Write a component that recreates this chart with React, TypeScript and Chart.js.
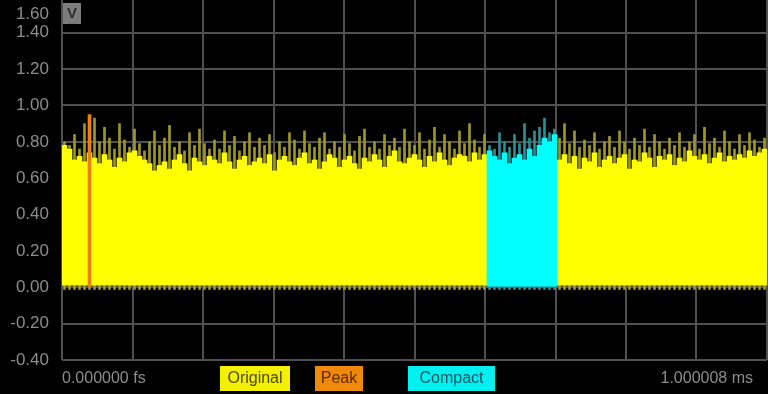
import React, { useEffect, useRef } from "react";
import { Chart, registerables } from "chart.js";

Chart.register(...registerables);

// Envelope body top (bright part) per column
const bodyTop: number[] = [
  0.78, 0.76, 0.70, 0.72, 0.69, 0.74, 0.71, 0.68, 0.73, 0.70,
  0.66, 0.71, 0.69, 0.74, 0.75, 0.72, 0.70, 0.68, 0.64, 0.67,
  0.69, 0.65, 0.70, 0.73, 0.68, 0.64, 0.71, 0.69, 0.67, 0.72,
  0.70, 0.68, 0.74, 0.69, 0.65, 0.70, 0.72, 0.67, 0.69, 0.71,
  0.68, 0.73, 0.64, 0.70, 0.72, 0.69, 0.67, 0.71, 0.74, 0.68,
  0.70, 0.65, 0.69, 0.73, 0.71, 0.66, 0.70, 0.72, 0.68, 0.65,
  0.71, 0.69, 0.73, 0.70, 0.66, 0.72, 0.75, 0.69, 0.68, 0.71,
  0.73, 0.70, 0.66, 0.72, 0.69, 0.74, 0.70, 0.67, 0.71, 0.73,
  0.72, 0.69, 0.74, 0.70, 0.73,
  0.75, 0.72, 0.70, 0.74, 0.68, 0.71, 0.73, 0.70, 0.76, 0.72, 0.78, 0.82, 0.80, 0.84,
  0.70, 0.73, 0.68, 0.72, 0.65, 0.71, 0.69, 0.74, 0.66, 0.70, 0.72,
  0.68, 0.71, 0.73, 0.65, 0.70, 0.69, 0.74, 0.71, 0.66, 0.72,
  0.70, 0.73, 0.67, 0.71, 0.69, 0.75, 0.72, 0.70, 0.73, 0.68,
  0.71, 0.74, 0.69, 0.72, 0.70, 0.73, 0.71, 0.75, 0.72, 0.74, 0.76,
];

// Spike peak per column
const spikePeak: number[] = [
  0.80, 0.78, 0.84, 0.76, 0.90, 0.79, 0.93, 0.80, 0.88, 0.82,
  0.76, 0.90, 0.81, 0.77, 0.87, 0.79, 0.75, 0.80, 0.86, 0.78,
  0.82, 0.89, 0.77, 0.80, 0.75, 0.85, 0.78, 0.87, 0.79, 0.76,
  0.81, 0.76, 0.86, 0.78, 0.83, 0.75, 0.80, 0.85, 0.77, 0.82,
  0.78, 0.84, 0.74, 0.80, 0.77, 0.85, 0.81, 0.76, 0.86, 0.79,
  0.77, 0.82, 0.85, 0.76, 0.80, 0.77, 0.84, 0.79, 0.75, 0.83,
  0.87, 0.77, 0.80, 0.76, 0.84, 0.78, 0.82, 0.77, 0.87, 0.80,
  0.78, 0.85, 0.76, 0.81, 0.88, 0.77, 0.84, 0.80, 0.76, 0.86,
  0.79, 0.90, 0.81, 0.77, 0.84,
  0.78, 0.76, 0.85, 0.80, 0.77, 0.84, 0.79, 0.90, 0.82, 0.86, 0.88, 0.93, 0.85, 0.87,
  0.82, 0.90, 0.79, 0.86, 0.77, 0.81, 0.78, 0.85, 0.76, 0.80, 0.83,
  0.77, 0.86, 0.80, 0.76, 0.82, 0.78, 0.87, 0.77, 0.84, 0.80,
  0.76, 0.82, 0.78, 0.85, 0.77, 0.80, 0.84, 0.76, 0.88, 0.79,
  0.82, 0.77, 0.86, 0.80, 0.76, 0.84, 0.78, 0.85, 0.81, 0.77, 0.82,
];

const compactStart = 85;
const compactEnd = 98;
const peakIndex = 5;
const peakValue = 0.95;

const topTickLabel = "1.60";
const gridDivisionCount = 10;
const xStartLabel = "0.000000 fs";
const xEndLabel = "1.000008 ms";
const legendItems = ["Original", "Peak", "Compact"];

const FONT = "'Liberation Sans', Arial, sans-serif";

const overlay = {
  id: "overlay",
  afterDraw(chart: any) {
    const ctx = chart.ctx;
    ctx.save();
    // V box
    ctx.fillStyle = "#7c7c7c";
    ctx.fillRect(63, 3, 18, 21);
    ctx.fillStyle = "#2e2e2e";
    ctx.font = "bold 15px " + FONT;
    ctx.textAlign = "center";
    ctx.textBaseline = "middle";
    ctx.fillText("V", 72, 14);
    // 1.60 label
    ctx.fillStyle = "#8c8c8c";
    ctx.font = "17px " + FONT;
    ctx.textAlign = "right";
    ctx.fillText(topTickLabel, 49, 14);
    // x labels
    ctx.font = "16px " + FONT;
    ctx.textAlign = "left";
    ctx.fillText(xStartLabel, 62, 379);
    ctx.textAlign = "right";
    ctx.fillText(xEndLabel, 753, 379);
    // legend boxes
    const boxes = [
      { x: 220, w: 70, bg: "#f5f000", fg: "#4e4a00" },
      { x: 315, w: 48, bg: "#f0880a", fg: "#5e2d00" },
      { x: 408, w: 87, bg: "#00f0f0", fg: "#035560" },
    ];
    ctx.textAlign = "center";
    ctx.font = "16px " + FONT;
    boxes.forEach((b, i) => {
      ctx.fillStyle = b.bg;
      ctx.fillRect(b.x, 366, b.w, 25);
      ctx.fillStyle = b.fg;
      ctx.fillText(legendItems[i], b.x + b.w / 2, 379);
    });
    ctx.restore();
  },
};

export default function App() {
  const ref = useRef<HTMLCanvasElement>(null);
  useEffect(() => {
    if (!ref.current) return;
    const inC = (i: number) => i >= compactStart && i <= compactEnd;
    const pts = (arr: (number | null)[]) => arr.map((v, i) => ({ x: i, y: v }));
    const xMin = -0.5;
    const xMax = bodyTop.length - 0.5;
    const chart = new Chart(ref.current, {
      type: "bar",
      data: {
        datasets: [
          {
            label: "Original spikes",
            data: pts(spikePeak.map((v, i) => (inC(i) ? null : v))),
            backgroundColor: "#9f9820",
            base: -0.012,
            barThickness: 2,
            grouped: false,
            order: 5,
          } as any,
          {
            label: "Compact spikes",
            data: pts(spikePeak.map((v, i) => (inC(i) ? v : null))),
            backgroundColor: "#2b8f96",
            base: -0.012,
            barThickness: 2,
            grouped: false,
            order: 4,
          } as any,
          {
            label: "Original",
            data: pts(bodyTop.map((v, i) => (inC(i) ? null : v))),
            backgroundColor: "#ffff00",
            base: 0.012,
            barPercentage: 1,
            categoryPercentage: 1,
            grouped: false,
            order: 3,
          } as any,
          {
            label: "Compact",
            data: pts(bodyTop.map((v, i) => (inC(i) ? v : null))),
            backgroundColor: "#00ffff",
            base: 0.0,
            barPercentage: 1,
            categoryPercentage: 1,
            grouped: false,
            order: 2,
          } as any,
          {
            label: "Peak",
            data: pts(bodyTop.map((_, i) => (i === peakIndex ? peakValue : null))),
            backgroundColor: "#e8820c",
            base: 0.0,
            barThickness: 3,
            grouped: false,
            order: 1,
          } as any,
        ],
      },
      options: {
        animation: false,
        responsive: false,
        devicePixelRatio: 1,
        layout: { padding: { left: 0, right: 1, top: 0, bottom: 34 } },
        plugins: { legend: { display: false }, tooltip: { enabled: false } },
        scales: {
          x: {
            type: "linear",
            position: "bottom",
            min: xMin,
            max: xMax,
            offset: false,
            ticks: { display: false },
            grid: { color: "#505050", lineWidth: 2, drawTicks: false, offset: false },
            border: { display: false },
            afterBuildTicks: (s: any) => {
              const step = (xMax - xMin) / gridDivisionCount;
              const t: any[] = [];
              for (let k = 0; k <= gridDivisionCount; k++) t.push({ value: xMin + k * step });
              s.ticks = t;
            },
            afterFit: (s: any) => {
              s.height = 0;
              s.paddingLeft = 0;
              s.paddingRight = 0;
            },
          } as any,
          y: {
            min: -0.4,
            max: 1.58,
            ticks: {
              stepSize: 0.2,
              color: "#8c8c8c",
              padding: 13,
              font: { size: 17, family: FONT },
              callback: (v: any) => Number(v).toFixed(2),
            },
            afterBuildTicks: (s: any) => {
              s.ticks = s.ticks.filter((t: any) => t.value < 1.5);
            },
            grid: {
              color: "#505050",
              lineWidth: 2,
              drawTicks: false,
            },
            border: { display: false },
            afterFit: (s: any) => {
              s.width = 62;
              s.paddingTop = 0;
              s.paddingBottom = 0;
            },
          } as any,
        },
      },
      plugins: [overlay],
    });
    return () => chart.destroy();
  }, []);
  return (
    <div
      style={{
        position: "fixed",
        left: 0,
        top: 0,
        width: 768,
        height: 394,
        background: "#000",
      }}
    >
      <canvas ref={ref} width={768} height={394} />
    </div>
  );
}
